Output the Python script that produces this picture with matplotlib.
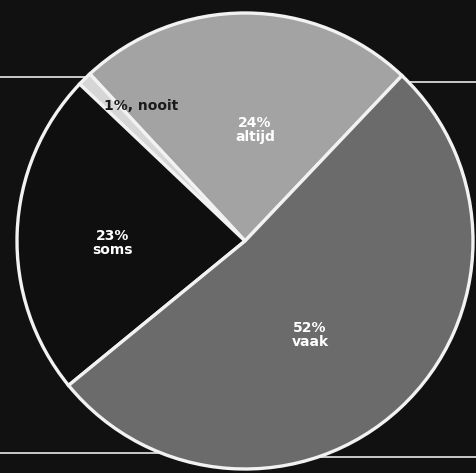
import matplotlib.pyplot as plt

labels = ["altijd", "1%, nooit", "soms", "vaak"]
shares = [24, 1, 23, 52]
pct_text = ["24%\naltijd", "1%, nooit", "23%\nsoms", "52%\nvaak"]
colors = ["#a3a3a3", "#d6d6d6", "#0f0f0f", "#6b6b6b"]
text_colors = ["white", "#1a1a1a", "white", "white"]
# label spots in pixel coords (x, y from top)
text_pos = [(255, 130), (141, 106), (113, 243), (310, 335)]

W, H = 477, 473
fig = plt.figure(figsize=(W / 100, H / 100), dpi=100)
fig.patch.set_facecolor("#111111")
ax = fig.add_axes([0, 0, 1, 1])
ax.set_facecolor("#111111")

cx, cy, r = 245, H - 241, 228

# thin rules behind the pie
ax.plot([0, cx], [H - 77, H - 77], color="#d8d8d8", lw=1.3, zorder=0)
ax.plot([cx, W], [H - 82, H - 82], color="#d8d8d8", lw=1.3, zorder=0)
ax.plot([0, cx], [H - 453, H - 453], color="#d8d8d8", lw=1.3, zorder=0)
ax.plot([cx, W], [H - 457, H - 457], color="#d8d8d8", lw=1.3, zorder=0)

ax.pie(shares, colors=colors, startangle=46.5, counterclock=True,
       center=(cx, cy), radius=r,
       wedgeprops=dict(edgecolor="#f2f2f2", linewidth=2.4))

for t, c, (x, y) in zip(pct_text, text_colors, text_pos):
    ax.text(x, H - y, t, color=c, ha="center", va="center",
            fontsize=10, fontweight="bold", linespacing=1.05)

ax.set_xlim(0, W)
ax.set_ylim(0, H)
ax.set_aspect("equal")
ax.axis("off")

fig.savefig("out.png", dpi=100, facecolor=fig.get_facecolor())
